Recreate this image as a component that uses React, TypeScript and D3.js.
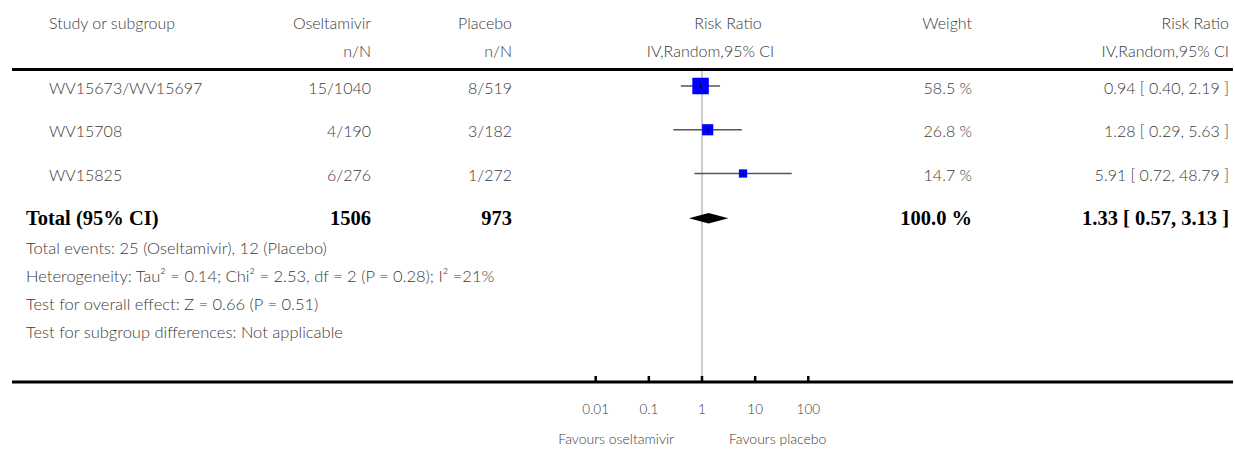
import React from "react";
import * as d3 from "d3";

const studies = ["WV15673/WV15697", "WV15708", "WV15825"];
const oseltamivirNN = ["15/1040", "4/190", "6/276"];
const placeboNN = ["8/519", "3/182", "1/272"];
const riskRatio = [0.94, 1.28, 5.91];
const ciLow = [0.4, 0.29, 0.72];
const ciHigh = [2.19, 5.63, 48.79];
const weights = [58.5, 26.8, 14.7];
const weightLabels = ["58.5 %", "26.8 %", "14.7 %"];
const ciLabels = ["0.94 [ 0.40, 2.19 ]", "1.28 [ 0.29, 5.63 ]", "5.91 [ 0.72, 48.79 ]"];

const totalLabel = "Total (95% CI)";
const totalOseltamivir = "1506";
const totalPlacebo = "973";
const totalWeight = "100.0 %";
const totalRR = 1.33;
const totalLow = 0.57;
const totalHigh = 3.13;
const totalCI = "1.33 [ 0.57, 3.13 ]";

const footnotes = [
  "Total events: 25 (Oseltamivir), 12 (Placebo)",
  "Heterogeneity: Tau² = 0.14; Chi² = 2.53, df = 2 (P = 0.28); I² =21%",
  "Test for overall effect: Z = 0.66 (P = 0.51)",
  "Test for subgroup differences: Not applicable",
];

const axisTicks = [0.01, 0.1, 1, 10, 100];
const axisTickLabels = ["0.01", "0.1", "1", "10", "100"];
const favoursLeft = "Favours oseltamivir";
const favoursRight = "Favours placebo";

const W = 1235;
const H = 449;
const SANS = "Lato, 'Open Sans', sans-serif";
const SERIF = "'Liberation Serif', 'DejaVu Serif', serif";
const TXT = "#3a3a3a";

export default function App() {
  const x = d3.scaleLog().domain([0.01, 100]).range([595.7, 808.3]);
  const rowY = d3.scalePoint<number>().domain([0, 1, 2]).range([86, 173.5]);
  const box = d3.scaleSqrt().domain([0, 58.5]).range([0, 16.5]);

  const lineTop = 69.5;
  const axisY = 382;
  const colStudy = 49;
  const colOs = 371;
  const colPl = 512;
  const colW = 972;
  const colRR = 1229;

  const totalY = 218.3;
  const diamond = d3.line<[number, number]>()([
    [x(totalLow), totalY],
    [x(totalRR), totalY - 5.3],
    [x(totalHigh), totalY],
    [x(totalRR), totalY + 5.3],
  ]) + "Z";

  return (
    <svg
      width={W}
      height={H}
      style={{ position: "absolute", left: 0, top: 0, background: "#fff" }}
      fontFamily={SANS}
      fontWeight={300}
    >
      {/* header */}
      <g fontSize={16} fill={TXT}>
        <text x={colStudy} y={29}>Study or subgroup</text>
        <text x={colOs} y={29} textAnchor="end">Oseltamivir</text>
        <text x={colOs} y={57} textAnchor="end">n/N</text>
        <text x={colPl} y={29} textAnchor="end">Placebo</text>
        <text x={colPl} y={57} textAnchor="end">n/N</text>
        <text x={728} y={29} textAnchor="middle">Risk Ratio</text>
        <text x={710.5} y={57} textAnchor="middle">IV,Random,95% CI</text>
        <text x={colW} y={29} textAnchor="end">Weight</text>
        <text x={colRR} y={29} textAnchor="end">Risk Ratio</text>
        <text x={colRR} y={57} textAnchor="end">IV,Random,95% CI</text>
      </g>
      <line x1={12} x2={1233} y1={lineTop} y2={lineTop} stroke="#000" strokeWidth={3} />

      {/* reference line */}
      <line x1={x(1)} x2={x(1)} y1={lineTop + 1.5} y2={axisY} stroke="#999" strokeWidth={1} />

      {/* study rows */}
      {studies.map((s, i) => {
        const cy = rowY(i)!;
        const ty = cy + 7.5;
        const sz = box(weights[i]);
        return (
          <g key={s}>
            <g fontSize={16} fill={TXT}>
              <text x={colStudy} y={ty}>{s}</text>
              <text x={colOs} y={ty} textAnchor="end">{oseltamivirNN[i]}</text>
              <text x={colPl} y={ty} textAnchor="end">{placeboNN[i]}</text>
              <text x={colW} y={ty} textAnchor="end">{weightLabels[i]}</text>
              <text x={colRR} y={ty} textAnchor="end">{ciLabels[i]}</text>
            </g>
            <line x1={x(ciLow[i])} x2={x(ciHigh[i])} y1={cy} y2={cy} stroke="#555" strokeWidth={1.5} />
            <rect x={x(riskRatio[i]) - sz / 2} y={cy - sz / 2} width={sz} height={sz} fill="#0000ff" />
            <line x1={x(riskRatio[i])} x2={x(riskRatio[i])} y1={cy - 2} y2={cy + 2} stroke="#000" strokeWidth={1} />
          </g>
        );
      })}

      {/* total row */}
      <g fontFamily={SERIF} fontWeight="bold" fontSize={20.5} fill="#000">
        <text x={26} y={225}>{totalLabel}</text>
        <text x={colOs} y={225} textAnchor="end">{totalOseltamivir}</text>
        <text x={colPl} y={225} textAnchor="end">{totalPlacebo}</text>
        <text x={colW} y={225} textAnchor="end">{totalWeight}</text>
        <text x={colRR} y={225} textAnchor="end">{totalCI}</text>
      </g>
      <path d={diamond} fill="#000" />

      {/* footnotes */}
      <g fontSize={16.5} fill={TXT}>
        {footnotes.map((f, i) => (
          <text key={i} x={26} y={253.5 + i * 28}>{f}</text>
        ))}
      </g>

      {/* axis */}
      <line x1={12} x2={1233} y1={axisY} y2={axisY} stroke="#000" strokeWidth={3} />
      {axisTicks.map((t, i) => (
        <g key={t}>
          <line x1={x(t)} x2={x(t)} y1={axisY - 6} y2={axisY} stroke="#000" strokeWidth={2.5} />
          <text x={x(t)} y={414} textAnchor="middle" fontSize={13.5} fill={TXT}>{axisTickLabels[i]}</text>
        </g>
      ))}
      <text x={x(1) - 28} y={444} textAnchor="end" fontSize={14} fill={TXT}>{favoursLeft}</text>
      <text x={x(1) + 27} y={444} textAnchor="start" fontSize={14} fill={TXT}>{favoursRight}</text>
    </svg>
  );
}
